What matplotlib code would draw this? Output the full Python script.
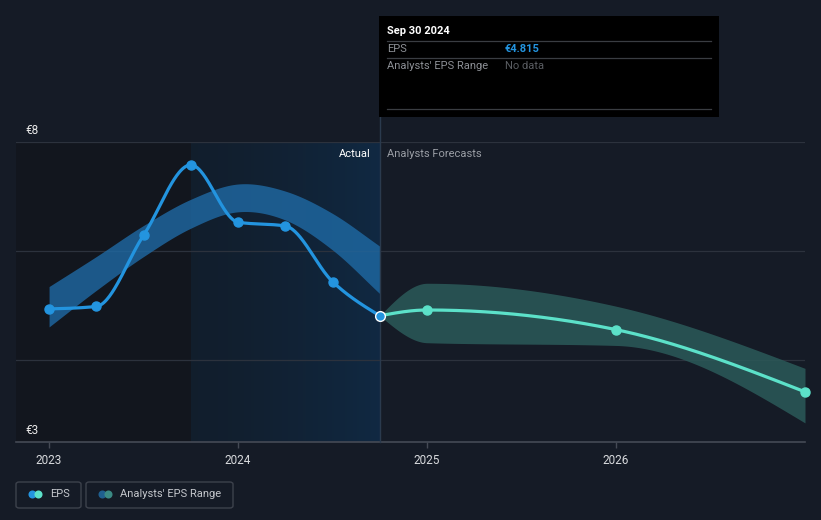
import numpy as np
import matplotlib.pyplot as plt
from matplotlib.patches import FancyBboxPatch, Rectangle
from matplotlib.lines import Line2D

plt.rcParams['font.family'] = ['Roboto', 'DejaVu Sans']

# ---- data ----
actual_dates = [2023.0, 2023.25, 2023.5, 2023.75, 2024.0, 2024.25, 2024.5, 2024.75]
actual_eps = [4.94, 4.985, 6.29, 7.58, 6.53, 6.46, 5.44, 4.815]
past_band_hi = [5.35, 5.90, 6.47, 6.95, 7.23, 7.10, 6.69, 6.09]
past_band_lo = [4.61, 5.28, 5.90, 6.42, 6.72, 6.57, 6.02, 5.22]

fc_dates = [2024.75, 2025.0, 2026.0, 2027.0]
fc_eps = [4.815, 4.92, 4.56, 3.42]
fc_hi = [4.815, 5.41, 4.99, 3.85]
fc_lo = [4.815, 4.32, 4.27, 2.85]

year_ticks = [2023, 2024, 2025, 2026]
last_label = "Sep 30 2024"
last_eps_text = "€4.815"
ylim = (2.5, 8.0)
xlim = (2022.825, 2027.0)

BG = '#151b26'
BLUE = '#2394df'
TEAL = '#5ce1c9'


def smooth(x, y, n=300, kind='monotone'):
    x = np.asarray(x, float)
    y = np.asarray(y, float)
    h = np.diff(x)
    d = np.diff(y) / h
    m = np.zeros(len(x))
    if kind == 'catmull':
        for k in range(1, len(x) - 1):
            m[k] = (y[k + 1] - y[k - 1]) / (x[k + 1] - x[k - 1])
        m[0], m[-1] = d[0], d[-1]
    else:
        # d3 curveMonotoneX slopes (Steffen)
        for k in range(1, len(x) - 1):
            s0, s1 = d[k - 1], d[k]
            p = (s0 * h[k] + s1 * h[k - 1]) / (h[k - 1] + h[k])
            m[k] = (np.sign(s0) + np.sign(s1)) * min(abs(s0), abs(s1), 0.5 * abs(p))
        m[0] = (3 * d[0] - m[1]) / 2
        m[-1] = (3 * d[-1] - m[-2]) / 2
    xs = np.linspace(x[0], x[-1], n)
    idx = np.clip(np.searchsorted(x, xs) - 1, 0, len(x) - 2)
    t = (xs - x[idx]) / h[idx]
    hh = h[idx]
    ys = ((2 * t**3 - 3 * t**2 + 1) * y[idx] + (t**3 - 2 * t**2 + t) * hh * m[idx]
          + (-2 * t**3 + 3 * t**2) * y[idx + 1] + (t**3 - t**2) * hh * m[idx + 1])
    return xs, ys


fig = plt.figure(figsize=(8.21, 5.2), dpi=100, facecolor=BG)
ax = fig.add_axes([16 / 821, 78 / 520, 789 / 821, 300 / 520])
ax.set_facecolor(BG)
ax.set_xlim(*xlim)
ax.set_ylim(*ylim)

# shaded past regions
ax.add_patch(Rectangle((xlim[0], ylim[0]), actual_dates[3] - xlim[0], ylim[1] - ylim[0],
                       color='#12161e', lw=0, zorder=0))
grad = np.zeros((1, 100, 3))
c0 = np.array([0.070, 0.118, 0.176])
c1 = np.array([0.063, 0.160, 0.260])
for i in range(100):
    f = (i / 99) ** 1.5
    grad[0, i] = c0 * (1 - f) + c1 * f
ax.imshow(grad, extent=[actual_dates[3], actual_dates[-1], ylim[0], ylim[1]],
          aspect='auto', zorder=0.5, interpolation='bilinear')

# grid lines
for g in [4, 6, 8]:
    ax.axhline(g, color='#2c323d', lw=0.9, zorder=1)
ax.axhline(ylim[0], color='#454a55', lw=1.2, zorder=1, clip_on=False)

# bands
bx, bhi = smooth(actual_dates, past_band_hi, kind='catmull')
_, blo = smooth(actual_dates, past_band_lo, kind='catmull')
ax.fill_between(bx, blo, bhi, color='#1f6aa5', alpha=0.8, lw=0, zorder=2)
fx, fhi = smooth(fc_dates, fc_hi)
_, flo = smooth(fc_dates, fc_lo)
ax.fill_between(fx, flo, fhi, color='#2b5a59', alpha=0.85, lw=0, zorder=2)

# divider
ax.plot([actual_dates[-1]] * 2, [ylim[0], 9.0], color='#2a3a4d', lw=1, zorder=3, clip_on=False)

# lines
lx, ly = smooth(actual_dates, actual_eps, 400)
ax.plot(lx, ly, color=BLUE, lw=2.3, zorder=4, solid_capstyle='round')
ax.plot(actual_dates[:-1], actual_eps[:-1], 'o', color=BLUE, ms=6.5, zorder=5)
fxl, fyl = smooth(fc_dates, fc_eps, 300)
ax.plot(fxl, fyl, color=TEAL, lw=2.3, zorder=4)
ax.plot(fc_dates[1:], fc_eps[1:], 'o', color=TEAL, ms=6.5, zorder=5, clip_on=False)
ax.plot(actual_dates[-1], actual_eps[-1], 'o', color=BLUE, mec='white', mew=1.0, ms=7, zorder=6)

# axes styling
for s in ax.spines.values():
    s.set_visible(False)
ax.set_yticks([])
ax.set_xticks(year_ticks)
ax.set_xticklabels([str(y) for y in year_ticks])
ax.tick_params(axis='x', colors='#454a55', length=4, width=1, labelcolor='#d8dadd',
               labelsize=8.5, pad=5)

# y labels
fig.text(25 / 821, 1 - 130 / 520, '€8', color='#e8e8e8', fontsize=8.5, va='center')
fig.text(25 / 821, 1 - 430 / 520, '€3', color='#e8e8e8', fontsize=8.5, va='center')

# actual / forecast labels
fig.text(371 / 821, 1 - 154 / 520, 'Actual', color='white', fontsize=8, ha='right', va='center')
fig.text(387 / 821, 1 - 154 / 520, 'Analysts Forecasts', color='#9a9ea5', fontsize=8,
         ha='left', va='center')

# tooltip
fig.patches.append(Rectangle((379 / 821, 1 - 117 / 520), 340 / 821, 101 / 520,
                             transform=fig.transFigure, color='black', lw=0, zorder=10))
fig.text(387 / 821, 1 - 31 / 520, last_label, color='white', fontsize=8, weight='bold',
         va='center', zorder=11)
for yy in [41, 58, 109]:
    fig.add_artist(Line2D([387 / 821, 711 / 821], [1 - yy / 520] * 2, color='#3a3d42',
                          lw=0.9, zorder=11))
fig.text(387 / 821, 1 - 49 / 520, 'EPS', color='#8d9096', fontsize=8, va='center', zorder=11)
fig.text(505 / 821, 1 - 49 / 520, last_eps_text, color=BLUE, fontsize=8, weight='bold',
         va='center', zorder=11)
fig.text(387 / 821, 1 - 66 / 520, "Analysts' EPS Range", color='#8d9096', fontsize=8,
         va='center', zorder=11)
fig.text(505 / 821, 1 - 66 / 520, 'No data', color='#5a5d62', fontsize=8, va='center', zorder=11)


# legend
def legend_box(x0, w, c_a, c_b, label):
    fig.patches.append(FancyBboxPatch((x0 / 821, 1 - 508 / 520), w / 821, 26 / 520,
                                      boxstyle='round,pad=0,rounding_size=0.004',
                                      transform=fig.transFigure, fc='none',
                                      ec='#3d424c', lw=1))
    fig.add_artist(Line2D([(x0 + 15.5) / 821], [1 - 494 / 520], marker='o', ms=5.8,
                          color=c_a, mew=0))
    fig.add_artist(Line2D([(x0 + 21.5) / 821], [1 - 494 / 520], marker='o', ms=5.8,
                          color=c_b, mew=0))
    fig.text((x0 + 34) / 821, 1 - 494 / 520, label, color='#c4c7cc', fontsize=8, va='center')


legend_box(16, 65, BLUE, TEAL, 'EPS')
legend_box(86, 147, '#1f5f8f', '#3b8a84', "Analysts' EPS Range")

fig.savefig('out.png', dpi=100, facecolor=BG)
